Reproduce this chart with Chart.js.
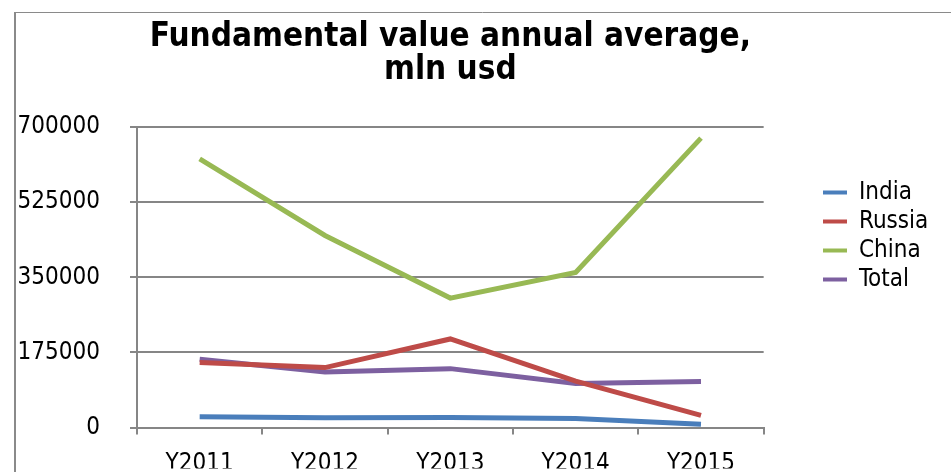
<!DOCTYPE html>
<html>
<head>
<meta charset="utf-8">
<script src="https://cdn.jsdelivr.net/npm/chart.js@4.4.0/dist/chart.umd.min.js"></script>
<style>
  html, body { margin: 0; padding: 0; background: #fff; }
  #wrap { width: 951px; height: 472px; position: relative; }
</style>
</head>
<body>
<div id="wrap"><canvas id="myChart" width="951" height="472"></canvas></div>
<script>
const years = ['Y2011', 'Y2012', 'Y2013', 'Y2014', 'Y2015'];
const india = [25100, 22800, 23500, 21200, 7800];
const russia = [151500, 139700, 206400, 108300, 28300];
const china = [625600, 447400, 301600, 361500, 674000];
const total = [159300, 129500, 137300, 102800, 107500];
const yTicks = [0, 175000, 350000, 525000, 700000];

const FONT = '"DejaVu Sans Condensed", "DejaVu Sans", sans-serif';
const GRID = '#868686';

// frame lines on the left and top, like the original sheet
const framePlugin = {
    id: 'frame',
    beforeDraw(chart) {
        const c = chart.ctx;
        c.save();
        c.strokeStyle = '#8a8a8a';
        c.lineWidth = 2;
        c.beginPath();
        c.moveTo(15, 12);
        c.lineTo(15, chart.height);
        c.stroke();
        c.lineWidth = 1;
        c.beginPath();
        c.moveTo(14, 12.5);
        c.lineTo(chart.width, 12.5);
        c.stroke();
        c.restore();
    }
};

// push the legend to the right, away from the plot
const legendShift = {
    id: 'legendShift',
    afterLayout(chart) {
        const lg = chart.legend;
        const dx = 818 - lg.left;
        lg.left += dx;
        lg.right += dx;
    }
};

const ctx = document.getElementById('myChart').getContext('2d');

function series(label, data, color) {
    return {
        label: label,
        data: data,
        borderColor: color,
        backgroundColor: color,
        borderWidth: 5,
        pointRadius: 0,
        tension: 0,
        fill: false
    };
}

let chart = new Chart(ctx, {
    type: 'line',
    data: {
        labels: years,
        datasets: [
            series('India', india, '#4a7ebb'),
            series('Russia', russia, '#be4b48'),
            series('China', china, '#98b954'),
            series('Total', total, '#7d60a0')
        ]
    },
    plugins: [framePlugin, legendShift],
    options: {
        responsive: false,
        animation: false,
        layout: { padding: { left: 0, right: 67, top: 0, bottom: 0 } },
        plugins: {
            title: {
                display: true,
                fullSize: false,
                text: ['Fundamental value annual average,', 'mln usd'],
                color: '#000',
                font: { family: FONT, size: 33, weight: 'bold', lineHeight: 1.0 },
                padding: { top: 21, bottom: 40 }
            },
            legend: {
                position: 'right',
                align: 'center',
                labels: {
                    color: '#000',
                    font: { family: FONT, size: 24 },
                    boxWidth: 24,
                    boxHeight: 4,
                    padding: 5,
                    generateLabels: (c) => Chart.defaults.plugins.legend.labels.generateLabels(c)
                        .map(l => Object.assign(l, { lineWidth: 0 }))
                }
            },
            tooltip: { enabled: false }
        },
        scales: {
            x: {
                offset: true,
                grid: {
                    offset: true,
                    drawOnChartArea: false,
                    color: GRID,
                    lineWidth: 2,
                    tickLength: 7
                },
                border: { color: GRID, width: 2 },
                ticks: {
                    color: '#000',
                    font: { family: FONT, size: 24 },
                    padding: 15,
                    maxRotation: 0
                },
                afterFit: (s) => { s.height = 41; }
            },
            y: {
                min: 0,
                max: 700000,
                afterBuildTicks: (s) => { s.ticks = yTicks.map(v => ({ value: v })); },
                grid: { color: GRID, lineWidth: 2, tickLength: 7 },
                border: { color: GRID, width: 2 },
                ticks: {
                    color: '#000',
                    font: { family: FONT, size: 24 },
                    padding: 30,
                    callback: (v) => String(v)
                },
                afterFit: (s) => { s.width = 137; }
            }
        }
    }
});
</script>
</body>
</html>
